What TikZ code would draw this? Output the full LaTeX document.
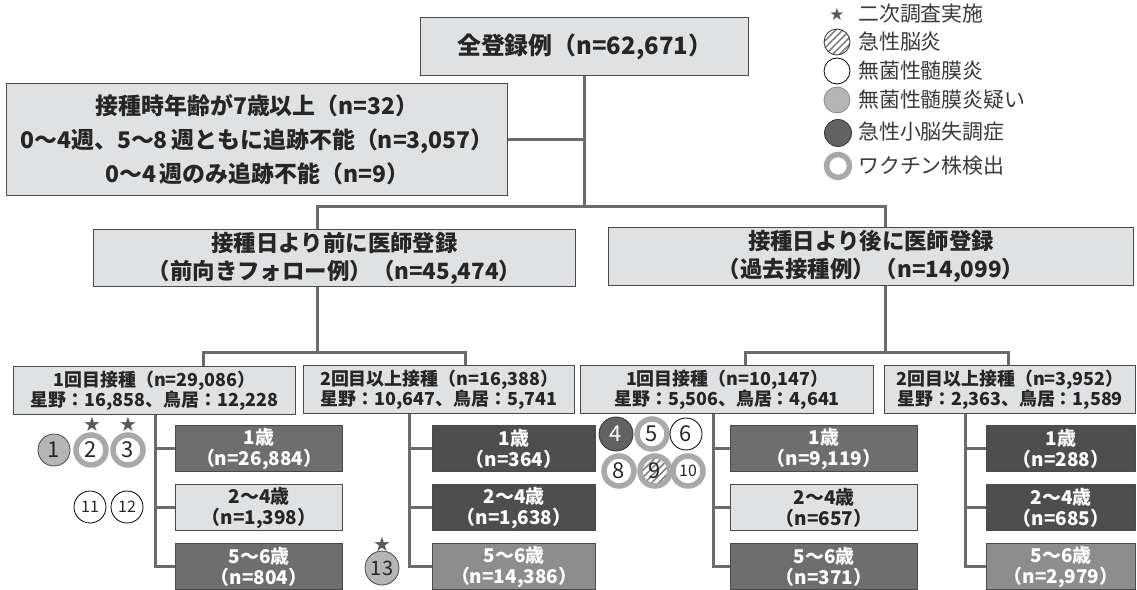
\documentclass[tikz,border=0pt]{standalone}
\usepackage{fontspec}
\setmainfont{Noto Sans CJK JP}
\newfontfamily\symf{DejaVu Sans}
\usetikzlibrary{patterns.meta}
\definecolor{boxlt}{HTML}{E0E1E2}
\definecolor{boxmd}{HTML}{6E6E6E}
\definecolor{boxdk}{HTML}{4E4E4E}
\definecolor{boxgr}{HTML}{8D8D8D}
\definecolor{edgec}{HTML}{4A4A4A}
\definecolor{connc}{HTML}{6B6B6B}
\definecolor{txtc}{HTML}{262626}
\definecolor{ringc}{HTML}{A9A9A9}
\definecolor{cirlt}{HTML}{B5B5B5}
\definecolor{cirdk}{HTML}{626262}
\definecolor{legc}{HTML}{3A3A3A}
\tikzset{
  box/.style={draw=edgec, line width=1.2bp, fill=boxlt, text=txtc, align=center,
    inner sep=0pt, anchor=north west},
  wh/.style 2 args={minimum width=#1bp, minimum height=#2bp},
  fbig/.style={font=\fontsize{24}{28}\selectfont\bfseries},
  fex/.style={font=\fontsize{23}{34}\selectfont\bfseries},
  fmid/.style={font=\fontsize{22.5}{28}\selectfont\bfseries},
  fsub/.style={font=\fontsize{18}{19.5}\selectfont\bfseries},
  fage/.style={font=\fontsize{19}{21}\selectfont\bfseries},
  agelt/.style={box, fage, wh={#1}{46}},
  agemd/.style={box, fage, wh={#1}{46}, fill=boxmd, text=white},
  agedk/.style={box, fage, wh={#1}{46}, fill=boxdk, text=white},
  agegr/.style={box, fage, wh={#1}{46}, fill=boxgr, text=white},
  conn/.style={draw=connc, line width=3bp},
  cring/.style={circle, draw=ringc, line width=5.5bp, fill=white, minimum size=30bp,
    inner sep=0pt, text=txtc, font=\fontsize{22}{22}\selectfont},
  cthin/.style={circle, draw=black, line width=0.8bp, fill=white, minimum size=32bp,
    inner sep=0pt, text=txtc, font=\fontsize{22}{22}\selectfont},
  clt/.style={circle, draw=edgec, line width=0.8bp, fill=cirlt, minimum size=32bp,
    inner sep=0pt, text=txtc, font=\fontsize{22}{22}\selectfont},
  cdk/.style={circle, draw=black!80, line width=0.8bp, fill=cirdk, minimum size=34bp,
    inner sep=0pt, text=white, font=\fontsize{22}{22}\selectfont},
  hatch/.style={pattern={Lines[angle=45, distance=5bp, line width=1.6bp]}, pattern color=black!50},
  smallnum/.style={font=\fontsize{16}{16}\selectfont},
  starn/.style={inner sep=0pt, text=black!65, font=\symf\fontsize{20}{20}\selectfont},
  legtext/.style={anchor=west, inner sep=0pt, text=legc, font=\fontsize{21}{21}\selectfont},
}
\begin{document}
\begin{tikzpicture}[x=1bp, y=-1bp]
\useasboundingbox[fill=white] (0,0) rectangle (1137,590);

% ---- top levels ----
\node[box, fbig, wh={328}{58}] (top) at (420,17) {全登録例（n=62,671）};
\node[box, fex, wh={501}{112}] (excl) at (6,83)
  {接種時年齢が7歳以上（n=32）\\0〜4週、5〜8\,週ともに追跡不能（n=3,057）\\0〜4\,週のみ追跡不能（n=9）};
\node[box, fmid, wh={482}{57}] (midL) at (93,229) {接種日より前に医師登録\\（前向きフォロー例）（n=45,474）};
\node[box, fmid, wh={525}{58}] (midR) at (608,227) {接種日より後に医師登録\\（過去接種例）（n=14,099）};

% ---- second level ----
\node[box, fsub, wh={282}{48}] (sub1) at (13,366) {1回目接種（n=29,086）\\星野：16,858、鳥居：12,228};
\node[box, fsub, wh={271}{48}] (sub2) at (303,365) {2回目以上接種（n=16,388）\\星野：10,647、鳥居：5,741};
\node[box, fsub, wh={293}{48}] (sub3) at (580,365) {1回目接種（n=10,147）\\星野：5,506、鳥居：4,641};
\node[box, fsub, wh={251}{48}] (sub4) at (884,365) {2回目以上接種（n=3,952）\\星野：2,363、鳥居：1,589};

% ---- age boxes ----
\node[agemd={167}] (a1) at (175,425) {1歳\\（n=26,884）};
\node[agelt={167}] (b1) at (175,484) {2〜4歳\\（n=1,398）};
\node[agemd={167}] (c1) at (175,543) {5〜6歳\\（n=804）};
\node[agedk={163}] (a2) at (432,425) {1歳\\（n=364）};
\node[agedk={163}] (b2) at (432,484) {2〜4歳\\（n=1,638）};
\node[agegr={163}] (c2) at (432,543) {5〜6歳\\（n=14,386）};
\node[agemd={187}] (a3) at (730,425) {1歳\\（n=9,119）};
\node[agelt={187}] (b3) at (730,484) {2〜4歳\\（n=657）};
\node[agemd={187}] (c3) at (730,543) {5〜6歳\\（n=371）};
\node[agedk={149}] (a4) at (986,425) {1歳\\（n=288）};
\node[agedk={149}] (b4) at (986,484) {2〜4歳\\（n=685）};
\node[agegr={149}] (c4) at (986,543) {5〜6歳\\（n=2,979）};

% ---- connectors ----
\coordinate (jL) at (317,207);
\coordinate (jR) at (885,207);
\draw[conn] (top.south) -- (top.south |- jL);
\draw[conn] (excl.east) -- (excl.east -| top.south);
\draw[conn] (jL|-midL.north) -- (jL) -- (jR) -- (jR|-midR.north);

\coordinate (kL) at (317,352);
\coordinate (k1) at (203,352);
\coordinate (k2) at (465,352);
\draw[conn] (kL|-midL.south) -- (kL);
\draw[conn] (k1|-sub1.north) -- (k1) -- (k2) -- (k2|-sub2.north);
\coordinate (kR) at (885,352);
\coordinate (k3) at (745,352);
\coordinate (k4) at (1008,352);
\draw[conn] (kR|-midR.south) -- (kR);
\draw[conn] (k3|-sub3.north) -- (k3) -- (k4) -- (k4|-sub4.north);

\coordinate (v1) at (155,0);
\coordinate (v2) at (409,0);
\coordinate (v3) at (713,0);
\coordinate (v4) at (965,0);
\draw[conn] (v1|-sub1.south) -- (v1|-c1.west) -- (c1.west);
\draw[conn] (v1|-a1.west) -- (a1.west);
\draw[conn] (v1|-b1.west) -- (b1.west);
\draw[conn] (v2|-sub2.south) -- (v2|-c2.west) -- (c2.west);
\draw[conn] (v2|-a2.west) -- (a2.west);
\draw[conn] (v2|-b2.west) -- (b2.west);
\draw[conn] (v3|-sub3.south) -- (v3|-c3.west) -- (c3.west);
\draw[conn] (v3|-a3.west) -- (a3.west);
\draw[conn] (v3|-b3.west) -- (b3.west);
\draw[conn] (v4|-sub4.south) -- (v4|-c4.west) -- (c4.west);
\draw[conn] (v4|-a4.west) -- (a4.west);
\draw[conn] (v4|-b4.west) -- (b4.west);

% ---- case circles ----
\node[clt] (n1) at (54,450) {1};
\node[cring] (n2) at (91,450) {2};
\node[cring] (n3) at (128,450) {3};
\node[starn] (s2) at (92,424) {★};
\node[starn] (s3) at (128,424) {★};
\node[cthin, smallnum] (n11) at (90,507) {11};
\node[cthin, smallnum] (n12) at (127,507) {12};
\node[clt, minimum size=34bp, font=\fontsize{20}{20}\selectfont] (n13) at (382,568) {13};
\node[starn] (s13) at (382,544) {★};
\node[cdk] (n4) at (616,434) {4};
\node[cring] (n5) at (652,434) {5};
\node[cthin] (n6) at (686,434) {6};
\node[cring] (n8) at (619,471) {8};
\node[cring, fill=none, preaction={fill=white}, hatch] (n9) at (655,471) {9};
\node[cring, smallnum] (n10) at (688,471) {10};

% ---- legend ----
\node[starn, font=\symf\fontsize{17}{17}\selectfont] (ls) at (837,14) {★};
\node[legtext] (lt1) at (858,14) {二次調査実施};
\node[circle, draw=black!80, line width=0.8bp, minimum size=26bp, inner sep=0pt,
  preaction={fill=white}, hatch] (lc2) at (837,42) {};
\node[legtext] (lt2) at (858,42) {急性脳炎};
\node[circle, draw=black, line width=0.8bp, fill=white, minimum size=26bp, inner sep=0pt] (lc3) at (837,71) {};
\node[legtext] (lt3) at (858,71) {無菌性髄膜炎};
\node[circle, draw=black!45, line width=0.8bp, fill=cirlt, minimum size=26bp, inner sep=0pt] (lc4) at (837,100) {};
\node[legtext] (lt4) at (858,100) {無菌性髄膜炎疑い};
\node[circle, draw=black!80, line width=0.8bp, fill=cirdk, minimum size=27bp, inner sep=0pt] (lc5) at (838,133) {};
\node[legtext] (lt5) at (858,132) {急性小脳失調症};
\node[circle, draw=ringc, line width=5.5bp, fill=white, minimum size=23bp, inner sep=0pt] (lc6) at (838,166) {};
\node[legtext] (lt6) at (858,166) {ワクチン株検出};
\end{tikzpicture}
\end{document}
